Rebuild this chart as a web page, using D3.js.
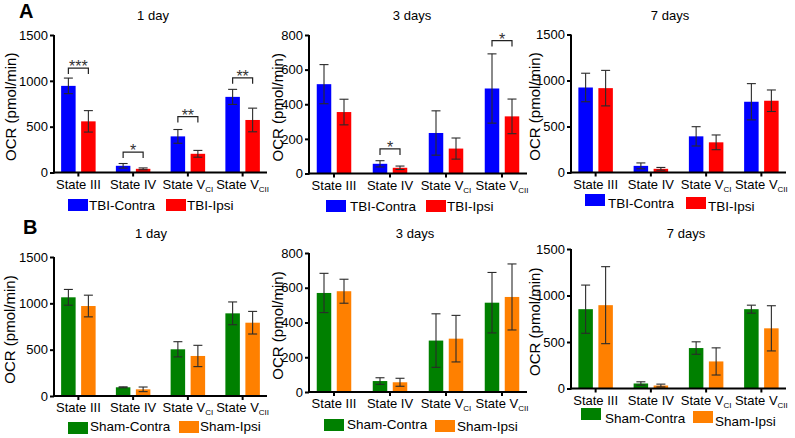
<!DOCTYPE html>
<html>
<head>
<meta charset="utf-8">
<script src="https://cdn.jsdelivr.net/npm/d3@7/dist/d3.min.js"></script>
<style>
  html, body { margin: 0; padding: 0; background: #fff; }
  svg { display: block; font-family: "Liberation Sans", Arial, sans-serif; }
</style>
</head>
<body>
<svg id="chart" width="795" height="438"></svg>
<script>
// ---------- DATA ----------
const categories = ["State III", "State IV", "State VCI", "State VCII"];
const tickMain = ["State III", "State IV", "State V", "State V"];
const tickSub = ["", "", "CI", "CII"];
const panelTitles = ["1 day", "3 days", "7 days"];
const ticksWide = [0, 500, 1000, 1500];
const ticksNarrow = [0, 200, 400, 600, 800];
const seriesNamesA = ["TBI-Contra", "TBI-Ipsi"];
const seriesNamesB = ["Sham-Contra", "Sham-Ipsi"];

// TBI (row A)
const tbiContra1 = [945, 73, 394, 825];
const tbiContra1Err = [85, 25, 75, 82];
const tbiIpsi1 = [558, 40, 204, 573];
const tbiIpsi1Err = [117, 10, 37, 129];
const tbiContra3 = [516, 56, 234, 491];
const tbiContra3Err = [113, 18, 128, 200];
const tbiIpsi3 = [355, 33, 144, 330];
const tbiIpsi3Err = [74, 10, 61, 100];
const tbiContra7 = [924, 72, 393, 769];
const tbiContra7Err = [155, 32, 105, 197];
const tbiIpsi7 = [917, 40, 328, 780];
const tbiIpsi7Err = [193, 15, 80, 117];

// Sham (row B)
const shamContra1 = [1065, 94, 504, 892];
const shamContra1Err = [85, 5, 82, 123];
const shamIpsi1 = [971, 72, 432, 791];
const shamIpsi1Err = [117, 25, 115, 122];
const shamContra3 = [570, 63, 296, 514];
const shamContra3Err = [113, 19, 154, 174];
const shamIpsi3 = [580, 56, 307, 547];
const shamIpsi3Err = [69, 23, 134, 190];
const shamContra7 = [853, 54, 435, 853];
const shamContra7Err = [259, 18, 67, 43];
const shamIpsi7 = [896, 32, 291, 647];
const shamIpsi7Err = [414, 15, 146, 243];

// significance brackets: [category index, bracket value, label]
const sig1 = [[0, 1139, "***"], [1, 223, "*"], [2, 610, "**"], [3, 1033, "**"]];
const sig3 = [[1, 142, "*"], [3, 768, "*"]];

// ---------- LAYOUT ----------
const colorsA = ["#0000ff", "#ff0000"];
const colorsB = ["#008000", "#ff8000"];

const panels = [
  { c: tbiContra1, ce: tbiContra1Err, i: tbiIpsi1, ie: tbiIpsi1Err, max: 1500, ticks: ticksWide, title: panelTitles[0],
    x0: 54, x1: 267, bx0: 51, bx1: 270, top: 35, bot: 172.5, titleX: 153, titleY: 20, ylabX: 10,
    colors: colorsA, names: seriesNamesA, sig: sig1,
    leg: [[68, 199, 89, 210], [166, 199, 187, 210]] },
  { c: tbiContra3, ce: tbiContra3Err, i: tbiIpsi3, ie: tbiIpsi3Err, max: 800, ticks: ticksNarrow, title: panelTitles[1],
    x0: 309, x1: 527, bx0: 306, bx1: 530, top: 35, bot: 173.5, titleX: 412, titleY: 20, ylabX: 277,
    colors: colorsA, names: seriesNamesA, sig: sig3,
    leg: [[326, 200, 350, 211], [426, 200, 447, 211]] },
  { c: tbiContra7, ce: tbiContra7Err, i: tbiIpsi7, ie: tbiIpsi7Err, max: 1500, ticks: ticksWide, title: panelTitles[2],
    x0: 571, x1: 786, bx0: 568, bx1: 789, top: 34.5, bot: 172.5, titleX: 670, titleY: 20, ylabX: 534,
    colors: colorsA, names: seriesNamesA, sig: [],
    leg: [[585, 194, 608, 208], [686, 197, 708, 211]] },
  { c: shamContra1, ce: shamContra1Err, i: shamIpsi1, ie: shamIpsi1Err, max: 1500, ticks: ticksWide, title: panelTitles[0],
    x0: 54, x1: 267, bx0: 51, bx1: 270, top: 257, bot: 396, titleX: 151, titleY: 238, ylabX: 9,
    colors: colorsB, names: seriesNamesB, sig: [],
    leg: [[68, 422, 90, 431], [179, 421, 200, 431]] },
  { c: shamContra3, ce: shamContra3Err, i: shamIpsi3, ie: shamIpsi3Err, max: 800, ticks: ticksNarrow, title: panelTitles[1],
    x0: 309, x1: 527, bx0: 306, bx1: 530, top: 253, bot: 392, titleX: 415, titleY: 238, ylabX: 277,
    colors: colorsB, names: seriesNamesB, sig: [],
    leg: [[324, 419, 347, 429], [435, 420, 457, 431]] },
  { c: shamContra7, ce: shamContra7Err, i: shamIpsi7, ie: shamIpsi7Err, max: 1500, ticks: ticksWide, title: panelTitles[2],
    x0: 571, x1: 786, bx0: 568, bx1: 789, top: 249, bot: 388.5, titleX: 686, titleY: 238, ylabX: 534,
    colors: colorsB, names: seriesNamesB, sig: [],
    leg: [[581, 408, 605, 423], [693, 411, 715, 426]] }
];

const svg = d3.select("#chart");

// panel letters
svg.append("text").attr("x", 19).attr("y", 18).attr("font-size", 20).attr("font-weight", "bold").text("A");
svg.append("text").attr("x", 23).attr("y", 234).attr("font-size", 20).attr("font-weight", "bold").text("B");

const barW = 14.5, off = 10, capW = 9;

panels.forEach(p => {
  const g = svg.append("g");
  const x = d3.scaleBand().domain(categories).range([p.bx0, p.bx1]);
  const y = d3.scaleLinear().domain([0, p.max]).range([p.bot, p.top]);

  // bars
  const series = [
    { vals: p.c, errs: p.ce, dx: -off, color: p.colors[0] },
    { vals: p.i, errs: p.ie, dx: off, color: p.colors[1] }
  ];
  series.forEach(s => {
    const rows = categories.map((cat, k) => ({ cat, v: s.vals[k], e: s.errs[k] }));
    g.selectAll(null).data(rows).enter().append("rect")
      .attr("x", d => x(d.cat) + x.bandwidth() / 2 + s.dx - barW / 2)
      .attr("y", d => y(d.v))
      .attr("width", barW)
      .attr("height", d => y(0) - y(d.v))
      .attr("fill", s.color);
    // error bars
    const eg = g.selectAll(null).data(rows).enter().append("g")
      .attr("stroke", "#2a2a2a").attr("stroke-width", 1.1).attr("fill", "none");
    eg.append("line")
      .attr("x1", d => x(d.cat) + x.bandwidth() / 2 + s.dx)
      .attr("x2", d => x(d.cat) + x.bandwidth() / 2 + s.dx)
      .attr("y1", d => y(d.v + d.e)).attr("y2", d => y(Math.max(0, d.v - d.e)));
    eg.append("line")
      .attr("x1", d => x(d.cat) + x.bandwidth() / 2 + s.dx - capW / 2)
      .attr("x2", d => x(d.cat) + x.bandwidth() / 2 + s.dx + capW / 2)
      .attr("y1", d => y(d.v + d.e)).attr("y2", d => y(d.v + d.e));
    eg.append("line")
      .attr("x1", d => x(d.cat) + x.bandwidth() / 2 + s.dx - capW / 2)
      .attr("x2", d => x(d.cat) + x.bandwidth() / 2 + s.dx + capW / 2)
      .attr("y1", d => y(Math.max(0, d.v - d.e))).attr("y2", d => y(Math.max(0, d.v - d.e)));
  });

  // y axis
  const ya = g.append("g").attr("transform", `translate(${p.x0},0)`)
    .call(d3.axisLeft(y).tickValues(p.ticks).tickFormat(d3.format("d")).tickSize(4).tickPadding(2).tickSizeOuter(0));
  ya.select(".domain").attr("stroke-width", 2).attr("d", `M0,${p.bot + 1}V${p.top}`);
  ya.selectAll(".tick line").attr("stroke-width", 2);
  ya.selectAll(".tick text").attr("font-size", 13).attr("fill", "#000")
    .attr("font-family", "'Liberation Sans', Arial, sans-serif");

  // x axis
  const xa = g.append("g").attr("transform", `translate(0,${p.bot})`)
    .call(d3.axisBottom(x).tickSize(4).tickSizeOuter(0).tickFormat(() => ""));
  xa.select(".domain").attr("stroke-width", 2).attr("d", `M${p.x0 - 1},0H${p.x1}`);
  xa.selectAll(".tick line").attr("stroke-width", 2);
  xa.selectAll(".tick text").remove();
  categories.forEach((cat, k) => {
    const t = g.append("text")
      .attr("x", x(cat) + x.bandwidth() / 2)
      .attr("y", p.bot + 16)
      .attr("text-anchor", "middle")
      .attr("font-size", 13)
      .text(tickMain[k]);
    if (tickSub[k]) {
      t.append("tspan").attr("font-size", 8).attr("dy", 3).text(tickSub[k]);
    }
  });

  // y label
  g.append("text")
    .attr("transform", `translate(${p.ylabX},${(p.top + p.bot) / 2 + 3}) rotate(-90)`)
    .attr("text-anchor", "middle")
    .attr("dominant-baseline", "central")
    .attr("font-size", 15)
    .text("OCR (pmol/min)");

  // title
  g.append("text").attr("x", p.titleX).attr("y", p.titleY)
    .attr("text-anchor", "middle").attr("font-size", 13).text(p.title);

  // significance
  p.sig.forEach(([k, v, lab]) => {
    const cx = x(categories[k]) + x.bandwidth() / 2;
    const xl = cx - off, xr = cx + off, yy = y(v);
    g.append("path")
      .attr("d", `M${xl},${yy + 6}V${yy}H${xr}V${yy + 6}`)
      .attr("fill", "none").attr("stroke", "#222").attr("stroke-width", 1.2);
    g.append("text").attr("x", cx).attr("y", yy + 4)
      .attr("text-anchor", "middle").attr("font-size", 16).attr("fill", "#333").text(lab);
  });

  // legend
  p.leg.forEach(([bx, by, tx, ty], k) => {
    g.append("rect").attr("x", bx).attr("y", by).attr("width", 20).attr("height", 12).attr("fill", p.colors[k]);
    g.append("text").attr("x", tx).attr("y", ty).attr("font-size", 13.5).text(p.names[k]);
  });
});
</script>
</body>
</html>
